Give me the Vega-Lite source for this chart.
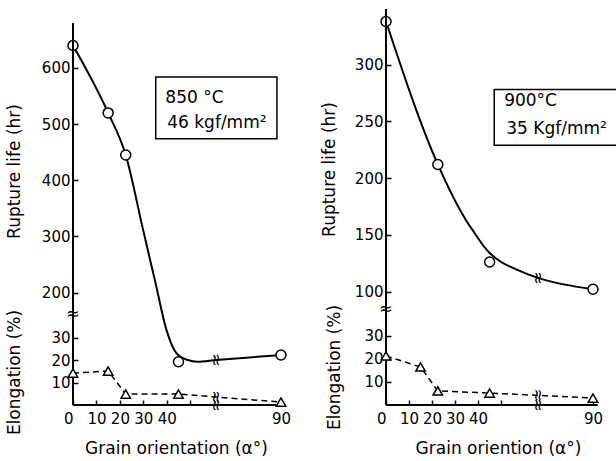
{
  "$schema": "https://vega.github.io/schema/vega-lite/v6.json",
  "padding": {"left": 5, "top": 8, "right": 0, "bottom": 0},
  "background": "white",
  "datasets": {
    "rupL": [{"angle":0,"rupture":640},{"angle":15,"rupture":520},{"angle":22.5,"rupture":445},{"angle":30,"rupture":310},{"angle":35,"rupture":221},{"angle":40,"rupture":132},{"angle":44,"rupture":93},{"angle":49,"rupture":80},{"angle":53,"rupture":77},{"angle":61,"rupture":80},{"angle":90,"rupture":89}],
    "ptsL": [{"angle":0,"rupture":640,"elong":14.3},{"angle":15,"rupture":520,"elong":15.2},{"angle":22.5,"rupture":445,"elong":4.9},{"angle":45,"rupture":77,"elong":4.9},{"angle":90,"rupture":89,"elong":1.3}],
    "rupR": [{"angle":0,"rupture":338},{"angle":22.5,"rupture":212},{"angle":35,"rupture":162},{"angle":39,"rupture":150},{"angle":42,"rupture":141},{"angle":45,"rupture":134},{"angle":50,"rupture":126},{"angle":56,"rupture":120},{"angle":66,"rupture":112},{"angle":90,"rupture":102}],
    "ptsR": [{"angle":0,"rupture":338,"elong":21.3},{"angle":15,"rupture":null,"elong":16.5},{"angle":22.5,"rupture":212,"elong":6.1},{"angle":45,"rupture":126,"elong":5.2},{"angle":90,"rupture":102,"elong":3}],
    "one": [{}]
  },
  "config": {
    "view": {"stroke": null},
    "font": "DejaVu Sans",
    "axis": {"grid": false, "labelColor": "black", "titleColor": "black", "labelFontSize": 15, "titleFontSize": 17, "titleFontWeight": "normal", "tickColor": "black", "tickWidth": 1.5, "domain": false, "tickSize": -5, "labelOverlap": false, "tickCount": 20}
  },
  "spacing": 29,
  "hconcat": [
    {
      "width": 215,
      "height": 396,
      "layer": [
        {
          "layer": [
            {
              "data": {"name": "rupL"},
              "mark": {"type": "line", "color": "black", "strokeWidth": 2, "interpolate": "monotone"},
              "encoding": {
                "x": {"field": "angle", "type": "quantitative", "scale": {"domain": [0, 61, 90], "range": [0, 143, 208]},
                  "axis": {"values": [0,10,20,30,40,50,90], "tickCount": 20, "labelExpr": "datum.value==50?'':datum.label", "labelOverlap": false, "labelBound": false, "title": "Grain orientation (α°)", "labelPadding": 11, "titleX": 103, "titleY": 43, "titleBaseline": "middle",
                    "labelAlign": {"condition": {"test": "datum.value==0", "value": "right"}, "value": "center"}}},
                "y": {"field": "rupture", "type": "quantitative", "scale": {"domain": [0, 705], "nice": false, "zero": false},
                  "axis": {"values": [200,300,400,500,600], "labelPadding": 8, "title": "Rupture life (hr)", "titleX": -59, "titleY": 162, "titleAlign": "center", "titleBaseline": "middle"}}
              }
            },
            {
              "data": {"name": "ptsL"},
              "mark": {"type": "point", "shape": "circle", "filled": true, "fill": "white", "stroke": "black", "strokeWidth": 1.5, "size": 100, "opacity": 1},
              "encoding": {"x": {"field": "angle", "type": "quantitative"}, "y": {"field": "rupture", "type": "quantitative"}}
            },
            {
              "data": {"name": "one"},
              "mark": {"type": "rule", "color": "black", "strokeWidth": 2},
              "encoding": {"x": {"datum": 0, "type": "quantitative"}, "y": {"datum": 0, "type": "quantitative"}, "y2": {"datum": 680}}
            },
            {
              "data": {"name": "one"},
              "mark": {"type": "rule", "color": "black", "strokeWidth": 2},
              "encoding": {"x": {"datum": 0, "type": "quantitative"}, "x2": {"datum": 92}, "y": {"datum": 0, "type": "quantitative"}}
            },
            {
              "data": {"name": "one"},
              "mark": {"type": "rect", "filled": false, "stroke": "black", "strokeWidth": 1.5},
              "encoding": {"x": {"datum": 35.3, "type": "quantitative"}, "x2": {"datum": 88.2}, "y": {"datum": 584, "type": "quantitative"}, "y2": {"datum": 474}}
            },
            {
              "data": {"name": "one"},
              "mark": {"type": "text", "text": "850 °C", "align": "left", "baseline": "middle", "fontSize": 17, "color": "black"},
              "encoding": {"x": {"datum": 39.4, "type": "quantitative"}, "y": {"datum": 547, "type": "quantitative"}}
            },
            {
              "data": {"name": "one"},
              "mark": {"type": "text", "text": "46 kgf/mm²", "align": "left", "baseline": "middle", "fontSize": 17, "color": "black"},
              "encoding": {"x": {"datum": 40.2, "type": "quantitative"}, "y": {"datum": 502, "type": "quantitative"}}
            },
            {
              "data": {"name": "one"},
              "mark": {"type": "text", "text": "≈", "fontSize": 16, "color": "black", "baseline": "middle"},
              "encoding": {"x": {"datum": 0, "type": "quantitative"}, "y": {"datum": 162, "type": "quantitative"}}
            },
            {
              "data": {"name": "one"},
              "mark": {"type": "text", "text": "≈", "fontSize": 16, "angle": 90, "color": "black", "baseline": "middle"},
              "encoding": {"x": {"datum": 61, "type": "quantitative"}, "y": {"datum": 0, "type": "quantitative"}}
            },
            {
              "data": {"name": "one"},
              "mark": {"type": "text", "text": "≈", "fontSize": 16, "angle": 90, "color": "black", "baseline": "middle"},
              "encoding": {"x": {"datum": 61, "type": "quantitative"}, "y": {"datum": 80, "type": "quantitative"}}
            }
          ]
        },
        {
          "layer": [
            {
              "data": {"name": "ptsL"},
              "mark": {"type": "line", "color": "black", "strokeWidth": 1.5, "strokeDash": [6, 4]},
              "encoding": {
                "x": {"field": "angle", "type": "quantitative"},
                "y": {"field": "elong", "type": "quantitative", "scale": {"domain": [0, 177.3], "nice": false, "zero": false},
                  "axis": {"orient": "left", "values": [10, 20, 30], "labelPadding": 8, "title": "Elongation (%)", "titleX": -59, "titleY": 363, "titleAlign": "center", "titleBaseline": "middle"}}
              }
            },
            {
              "data": {"name": "ptsL"},
              "mark": {"type": "point", "shape": "triangle-up", "filled": true, "fill": "white", "stroke": "black", "strokeWidth": 1.5, "size": 90, "opacity": 1},
              "encoding": {"x": {"field": "angle", "type": "quantitative"}, "y": {"field": "elong", "type": "quantitative"}}
            },
            {
              "data": {"name": "one"},
              "mark": {"type": "text", "text": "≈", "fontSize": 16, "angle": 90, "color": "black", "baseline": "middle"},
              "encoding": {"x": {"datum": 61, "type": "quantitative"}, "y": {"datum": 3.6, "type": "quantitative"}}
            }
          ]
        }
      ],
      "resolve": {"scale": {"y": "independent"}}
    },
    {
      "width": 215,
      "height": 396,
      "layer": [
        {
          "layer": [
            {
              "data": {"name": "rupR"},
              "mark": {"type": "line", "color": "black", "strokeWidth": 2, "interpolate": "monotone"},
              "encoding": {
                "x": {"field": "angle", "type": "quantitative", "scale": {"domain": [0, 66, 90], "range": [0, 152, 207]},
                  "axis": {"values": [0,10,20,30,40,50,90], "tickCount": 20, "labelExpr": "datum.value==50?'':datum.label", "labelOverlap": false, "labelBound": false, "title": "Grain oriention (α°)", "labelPadding": 11, "titleX": 112, "titleY": 43, "titleBaseline": "middle",
                    "labelAlign": {"condition": {"test": "datum.value==0", "value": "right"}, "value": "center"}}},
                "y": {"field": "rupture", "type": "quantitative", "scale": {"domain": [0, 349], "nice": false, "zero": false},
                  "axis": {"values": [100,150,200,250,300], "labelPadding": 8, "title": "Rupture life (hr)", "titleX": -57, "titleY": 160, "titleAlign": "center", "titleBaseline": "middle"}}
              }
            },
            {
              "data": {"name": "ptsR"},
              "mark": {"type": "point", "shape": "circle", "filled": true, "fill": "white", "stroke": "black", "strokeWidth": 1.5, "size": 100, "opacity": 1},
              "encoding": {"x": {"field": "angle", "type": "quantitative"}, "y": {"field": "rupture", "type": "quantitative"}}
            },
            {
              "data": {"name": "one"},
              "mark": {"type": "rule", "color": "black", "strokeWidth": 2},
              "encoding": {"x": {"datum": 0, "type": "quantitative"}, "y": {"datum": 0, "type": "quantitative"}, "y2": {"datum": 349}}
            },
            {
              "data": {"name": "one"},
              "mark": {"type": "rule", "color": "black", "strokeWidth": 2},
              "encoding": {"x": {"datum": 0, "type": "quantitative"}, "x2": {"datum": 92}, "y": {"datum": 0, "type": "quantitative"}}
            },
            {
              "data": {"name": "one"},
              "mark": {"type": "rect", "filled": false, "stroke": "black", "strokeWidth": 1.5},
              "encoding": {"x": {"datum": 47, "type": "quantitative"}, "x2": {"datum": 100.5}, "y": {"datum": 278, "type": "quantitative"}, "y2": {"datum": 229}}
            },
            {
              "data": {"name": "one"},
              "mark": {"type": "text", "text": "900°C", "align": "left", "baseline": "middle", "fontSize": 17, "color": "black"},
              "encoding": {"x": {"datum": 51.3, "type": "quantitative"}, "y": {"datum": 268, "type": "quantitative"}}
            },
            {
              "data": {"name": "one"},
              "mark": {"type": "text", "text": "35 Kgf/mm²", "align": "left", "baseline": "middle", "fontSize": 17, "color": "black"},
              "encoding": {"x": {"datum": 52.2, "type": "quantitative"}, "y": {"datum": 243, "type": "quantitative"}}
            },
            {
              "data": {"name": "one"},
              "mark": {"type": "text", "text": "≈", "fontSize": 16, "color": "black", "baseline": "middle"},
              "encoding": {"x": {"datum": 0, "type": "quantitative"}, "y": {"datum": 85, "type": "quantitative"}}
            },
            {
              "data": {"name": "one"},
              "mark": {"type": "text", "text": "≈", "fontSize": 16, "angle": 90, "color": "black", "baseline": "middle"},
              "encoding": {"x": {"datum": 66, "type": "quantitative"}, "y": {"datum": 0, "type": "quantitative"}}
            },
            {
              "data": {"name": "one"},
              "mark": {"type": "text", "text": "≈", "fontSize": 16, "angle": 90, "color": "black", "baseline": "middle"},
              "encoding": {"x": {"datum": 66, "type": "quantitative"}, "y": {"datum": 112, "type": "quantitative"}}
            }
          ]
        },
        {
          "layer": [
            {
              "data": {"name": "ptsR"},
              "mark": {"type": "line", "color": "black", "strokeWidth": 1.5, "strokeDash": [6, 4]},
              "encoding": {
                "x": {"field": "angle", "type": "quantitative"},
                "y": {"field": "elong", "type": "quantitative", "scale": {"domain": [0, 172], "nice": false, "zero": false},
                  "axis": {"orient": "left", "values": [10, 20, 30], "labelPadding": 8, "title": "Elongation (%)", "titleX": -52, "titleY": 358, "titleAlign": "center", "titleBaseline": "middle"}}
              }
            },
            {
              "data": {"name": "ptsR"},
              "mark": {"type": "point", "shape": "triangle-up", "filled": true, "fill": "white", "stroke": "black", "strokeWidth": 1.5, "size": 90, "opacity": 1},
              "encoding": {"x": {"field": "angle", "type": "quantitative"}, "y": {"field": "elong", "type": "quantitative"}}
            },
            {
              "data": {"name": "one"},
              "mark": {"type": "text", "text": "≈", "fontSize": 16, "angle": 90, "color": "black", "baseline": "middle"},
              "encoding": {"x": {"datum": 66, "type": "quantitative"}, "y": {"datum": 4.3, "type": "quantitative"}}
            }
          ]
        }
      ],
      "resolve": {"scale": {"y": "independent"}}
    }
  ]
}
